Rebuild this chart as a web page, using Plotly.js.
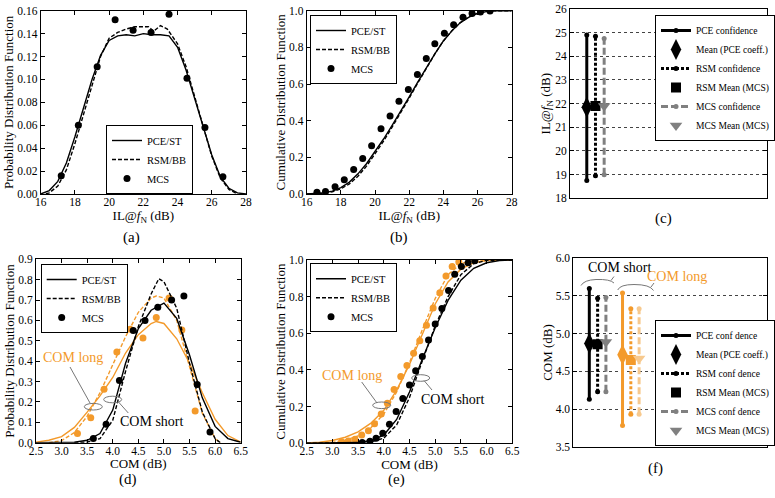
<!DOCTYPE html>
<html><head><meta charset="utf-8">
<script src="https://cdn.plot.ly/plotly-3.0.1.min.js"></script>
<style>html,body{margin:0;padding:0;background:#fff;}#chart{width:775px;height:498px;}</style>
</head><body><div id="chart"></div>
<script>
// ---------- Panel (a): PDF of IL@fN ----------
const aPceX = [16.0,16.5,17.0,17.5,18.0,18.5,19.0,19.5,20.0,20.5,21.0,21.5,22.0,22.5,23.0,23.5,24.0,24.5,25.0,25.5,26.0,26.5,27.0,27.5,28.0];
const aPceY = [0.000,0.003,0.011,0.027,0.050,0.076,0.100,0.121,0.134,0.138,0.139,0.138,0.140,0.139,0.139,0.138,0.128,0.108,0.084,0.059,0.034,0.015,0.005,0.001,0.000];
const aRsmX = [16.3,16.5,17.0,17.5,18.0,18.5,19.0,19.5,20.0,20.5,21.0,21.5,22.0,22.3,22.6,23.0,23.4,24.0,24.5,25.0,25.5,26.0,26.5,27.0,27.5];
const aRsmY = [0.000,0.001,0.007,0.021,0.044,0.070,0.096,0.120,0.136,0.141,0.144,0.146,0.146,0.146,0.142,0.147,0.144,0.131,0.111,0.085,0.058,0.033,0.014,0.004,0.000];
const aMcsX = [17.2,18.2,19.3,20.35,21.4,22.45,23.5,24.55,25.6,26.65];
const aMcsY = [0.016,0.060,0.111,0.152,0.143,0.141,0.157,0.101,0.058,0.015];

// ---------- Panel (b): CDF of IL@fN ----------
const bPceX = [16.0,17.0,17.5,18.0,18.5,19.0,19.5,20.0,20.5,21.0,21.5,22.0,22.5,23.0,23.5,24.0,24.5,25.0,25.5,26.0,26.5,27.0,28.0];
const bPceY = [0.000,0.006,0.016,0.035,0.065,0.110,0.165,0.230,0.300,0.375,0.450,0.530,0.610,0.690,0.765,0.835,0.890,0.935,0.965,0.985,0.995,0.999,1.000];
const bRsmX = [16.0,17.0,17.5,18.0,18.5,19.0,19.5,20.0,20.5,21.0,21.5,22.0,22.5,23.0,23.5,24.0,24.5,25.0,25.5,26.0,26.5,27.0,28.0];
const bRsmY = [0.000,0.004,0.012,0.028,0.055,0.097,0.152,0.217,0.288,0.365,0.442,0.523,0.605,0.687,0.764,0.835,0.891,0.936,0.967,0.986,0.996,1.000,1.000];
const bMcsX = [16.6,17.1,17.66,18.2,18.75,19.28,19.8,20.35,20.88,21.4,21.95,22.48,23.0,23.5,24.06,24.6,25.15,25.68,26.17,26.73];
const bMcsY = [0.009,0.014,0.040,0.078,0.134,0.194,0.263,0.356,0.426,0.506,0.570,0.652,0.739,0.820,0.877,0.924,0.964,0.985,0.993,0.998];

// ---------- Panel (c): confidence of IL@fN ----------
const cPos = [1, 2, 3];
const cLow = [18.75, 18.95, 19.0];
const cHigh = [24.9, 24.85, 24.75];
const cMean = [21.85, 21.9, 21.9];

// ---------- Panel (d): PDF of COM ----------
const dShortPceX = [2.5,3.0,3.25,3.5,3.75,4.0,4.25,4.5,4.75,5.0,5.25,5.5,5.75,6.0,6.25,6.5];
const dShortPceY = [0.000,0.000,0.002,0.012,0.045,0.160,0.390,0.560,0.650,0.685,0.610,0.430,0.220,0.080,0.020,0.002];
const dShortRsmX = [3.25,3.5,3.75,4.0,4.25,4.5,4.75,4.9,5.0,5.25,5.5,5.75,6.0,6.1];
const dShortRsmY = [0.000,0.003,0.020,0.110,0.350,0.570,0.730,0.805,0.790,0.660,0.390,0.150,0.020,0.000];
const dLongPceX = [2.5,2.75,3.0,3.25,3.5,3.75,4.0,4.25,4.5,4.75,4.85,5.0,5.25,5.5,5.75,6.0,6.25,6.5];
const dLongPceY = [0.003,0.012,0.030,0.075,0.150,0.230,0.320,0.440,0.530,0.585,0.595,0.585,0.510,0.390,0.245,0.115,0.035,0.003];
const dLongRsmX = [2.75,3.0,3.25,3.5,3.75,4.0,4.25,4.5,4.75,4.85,5.0,5.25,5.5,5.75,6.0,6.1];
const dLongRsmY = [0.000,0.010,0.050,0.130,0.245,0.380,0.520,0.640,0.710,0.720,0.710,0.600,0.370,0.145,0.020,0.000];
const dShortMcsX = [3.62,3.87,4.13,4.40,4.63,4.88,5.15,5.39,5.65,5.90];
const dShortMcsY = [0.021,0.090,0.305,0.550,0.600,0.665,0.700,0.720,0.285,0.053];
const dLongMcsX = [3.31,3.57,3.83,4.08,4.34,4.59,4.85,5.10,5.35,5.61];
const dLongMcsY = [0.045,0.122,0.262,0.445,0.557,0.514,0.615,0.710,0.553,0.155];

// ---------- Panel (e): CDF of COM ----------
const eShortPceX = [2.5,3.0,3.25,3.5,3.75,4.0,4.25,4.5,4.75,5.0,5.25,5.5,5.75,6.0,6.25,6.5];
const eShortPceY = [0.000,0.000,0.001,0.004,0.015,0.045,0.130,0.280,0.460,0.630,0.780,0.890,0.955,0.985,0.997,1.000];
const eShortRsmX = [2.5,3.25,3.5,3.75,4.0,4.25,4.5,4.75,5.0,5.25,5.5,5.75,6.0,6.5];
const eShortRsmY = [0.000,0.000,0.002,0.008,0.028,0.100,0.250,0.450,0.640,0.800,0.920,0.980,0.998,1.000];
const eLongPceX = [2.5,2.75,3.0,3.25,3.5,3.75,4.0,4.25,4.5,4.75,5.0,5.25,5.5,5.75,6.0,6.5];
const eLongPceY = [0.002,0.006,0.015,0.033,0.062,0.110,0.180,0.290,0.430,0.600,0.760,0.880,0.950,0.985,0.997,1.000];
const eLongRsmX = [2.75,3.0,3.25,3.5,3.75,4.0,4.25,4.5,4.75,5.0,5.25,5.5,5.75,6.0,6.5];
const eLongRsmY = [0.001,0.005,0.017,0.040,0.085,0.160,0.280,0.440,0.620,0.790,0.920,0.980,0.997,1.000,1.000];
const eShortMcsX = [3.58,3.73,3.85,3.98,4.11,4.24,4.37,4.50,4.62,4.75,4.87,5.00,5.13,5.26,5.38,5.51,5.64,5.77];
const eShortMcsY = [0.005,0.011,0.027,0.055,0.104,0.173,0.245,0.318,0.396,0.473,0.564,0.651,0.735,0.833,0.922,0.964,0.985,0.996];
const eLongMcsX = [3.18,3.31,3.44,3.57,3.70,3.82,3.95,4.07,4.20,4.33,4.45,4.58,4.70,4.83,4.96,5.09,5.21,5.33,5.46];
const eLongMcsY = [0.009,0.013,0.022,0.045,0.069,0.107,0.160,0.218,0.293,0.364,0.425,0.491,0.560,0.644,0.738,0.822,0.913,0.964,0.989];

// ---------- Panel (f): confidence of COM ----------
const fShortPos = [1, 2, 3];
const fShortLow = [4.13, 4.23, 4.23];
const fShortHigh = [5.60, 5.47, 5.48];
const fShortMean = [4.87, 4.86, 4.89];
const fLongPos = [5, 6, 7];
const fLongLow = [3.78, 3.93, 3.93];
const fLongHigh = [5.54, 5.33, 5.33];
const fLongMean = [4.72, 4.65, 4.67];

const legendNames = ['PCE/ST', 'RSM/BB', 'MCS'];
const confNamesC = ['PCE confidence', 'Mean (PCE coeff.)', 'RSM confidence', 'RSM Mean (MCS)', 'MCS confidence', 'MCS Mean (MCS)'];
const confNamesF = ['PCE conf dence', 'Mean (PCE coeff.)', 'RSM conf dence', 'RSM Mean (MCS)', 'MCS conf dence', 'MCS Mean (MCS)'];
const longNames = ['PCE conf dence (COM long)', 'Mean (PCE coeff.) (COM long)', 'RSM conf dence (COM long)', 'RSM Mean (MCS) (COM long)', 'MCS conf dence (COM long)', 'MCS Mean (MCS) (COM long)'];

// ---------- styles ----------
const W = 775, H = 498;
const fx = p => p / W, fy = p => 1 - p / H;
const FONT = 'Liberation Serif, DejaVu Serif, serif';
const BLK = '#000000', ORG = '#f39a2b', LORG = '#f7c98e', GRY = '#808080';
const DASH = '4px,2px';

function line(x, y, xa, ya, color, dash, leg, name, show) {
  return {x, y, xaxis: xa, yaxis: ya, type: 'scatter', mode: 'lines', name: name || 'COM long',
    line: {color, width: 1.4, dash: dash || 'solid'}, legend: leg, showlegend: !!show, hoverinfo: 'skip'};
}
function dots(x, y, xa, ya, color, leg, name, show) {
  return {x, y, xaxis: xa, yaxis: ya, type: 'scatter', mode: 'markers', name: name || 'COM long MCS',
    marker: {color, size: 7, symbol: 'circle'}, legend: leg, showlegend: !!show, hoverinfo: 'skip'};
}
function bar(xv, lo, hi, xa, ya, color, dash, leg, name, show) {
  return {x: [xv, xv], y: [lo, hi], xaxis: xa, yaxis: ya, type: 'scatter', mode: 'lines+markers', name,
    line: {color, width: 3, dash}, marker: {color, size: 5}, legend: leg, showlegend: !!show, hoverinfo: 'skip'};
}
function meanPt(xv, yv, xa, ya, color, symbol, size, leg, name, show) {
  return {x: [xv], y: [yv], xaxis: xa, yaxis: ya, type: 'scatter', mode: 'markers', name,
    marker: {color, size, symbol}, legend: leg, showlegend: !!show, hoverinfo: 'skip'};
}

const traces = [
  // (a)
  line(aPceX, aPceY, 'x', 'y', BLK, 'solid', 'legend', legendNames[0], true),
  line(aRsmX, aRsmY, 'x', 'y', BLK, DASH, 'legend', legendNames[1], true),
  dots(aMcsX, aMcsY, 'x', 'y', BLK, 'legend', legendNames[2], true),
  // (b)
  line(bPceX, bPceY, 'x2', 'y2', BLK, 'solid', 'legend2', legendNames[0], true),
  line(bRsmX, bRsmY, 'x2', 'y2', BLK, DASH, 'legend2', legendNames[1], true),
  dots(bMcsX, bMcsY, 'x2', 'y2', BLK, 'legend2', legendNames[2], true),
  // (c)
  bar(cPos[0], cLow[0], cHigh[0], 'x3', 'y3', BLK, 'solid', 'legend3', confNamesC[0], true),
  meanPt(cPos[0], cMean[0], 'x3', 'y3', BLK, 'diamond-tall', 15, 'legend3', confNamesC[1], true),
  bar(cPos[1], cLow[1], cHigh[1], 'x3', 'y3', BLK, '3px,2px', 'legend3', confNamesC[2], true),
  meanPt(cPos[1], cMean[1], 'x3', 'y3', BLK, 'square', 10, 'legend3', confNamesC[3], true),
  bar(cPos[2], cLow[2], cHigh[2], 'x3', 'y3', GRY, '7px,3px', 'legend3', confNamesC[4], true),
  meanPt(cPos[2], cMean[2], 'x3', 'y3', GRY, 'triangle-down', 11, 'legend3', confNamesC[5], true),
  // (d)
  line(dLongPceX, dLongPceY, 'x4', 'y4', ORG, 'solid', 'legend4'),
  line(dLongRsmX, dLongRsmY, 'x4', 'y4', ORG, DASH, 'legend4'),
  dots(dLongMcsX, dLongMcsY, 'x4', 'y4', ORG, 'legend4'),
  line(dShortPceX, dShortPceY, 'x4', 'y4', BLK, 'solid', 'legend4', legendNames[0], true),
  line(dShortRsmX, dShortRsmY, 'x4', 'y4', BLK, DASH, 'legend4', legendNames[1], true),
  dots(dShortMcsX, dShortMcsY, 'x4', 'y4', BLK, 'legend4', legendNames[2], true),
  // (e)
  line(eLongPceX, eLongPceY, 'x5', 'y5', ORG, 'solid', 'legend5'),
  line(eLongRsmX, eLongRsmY, 'x5', 'y5', ORG, DASH, 'legend5'),
  dots(eLongMcsX, eLongMcsY, 'x5', 'y5', ORG, 'legend5'),
  line(eShortPceX, eShortPceY, 'x5', 'y5', BLK, 'solid', 'legend5', legendNames[0], true),
  line(eShortRsmX, eShortRsmY, 'x5', 'y5', BLK, DASH, 'legend5', legendNames[1], true),
  dots(eShortMcsX, eShortMcsY, 'x5', 'y5', BLK, 'legend5', legendNames[2], true),
  // (f)
  bar(fShortPos[0], fShortLow[0], fShortHigh[0], 'x6', 'y6', BLK, 'solid', 'legend6', confNamesF[0], true),
  meanPt(fShortPos[0], fShortMean[0], 'x6', 'y6', BLK, 'diamond-tall', 15, 'legend6', confNamesF[1], true),
  bar(fShortPos[1], fShortLow[1], fShortHigh[1], 'x6', 'y6', BLK, '3px,2px', 'legend6', confNamesF[2], true),
  meanPt(fShortPos[1], fShortMean[1], 'x6', 'y6', BLK, 'square', 10, 'legend6', confNamesF[3], true),
  bar(fShortPos[2], fShortLow[2], fShortHigh[2], 'x6', 'y6', GRY, '7px,3px', 'legend6', confNamesF[4], true),
  meanPt(fShortPos[2], fShortMean[2], 'x6', 'y6', GRY, 'triangle-down', 11, 'legend6', confNamesF[5], true),
  bar(fLongPos[0], fLongLow[0], fLongHigh[0], 'x6', 'y6', ORG, 'solid', 'legend6', longNames[0]),
  meanPt(fLongPos[0], fLongMean[0], 'x6', 'y6', ORG, 'diamond-tall', 15, 'legend6', longNames[1]),
  bar(fLongPos[1], fLongLow[1], fLongHigh[1], 'x6', 'y6', ORG, '3px,2px', 'legend6', longNames[2]),
  meanPt(fLongPos[1], fLongMean[1], 'x6', 'y6', ORG, 'square', 10, 'legend6', longNames[3]),
  bar(fLongPos[2], fLongLow[2], fLongHigh[2], 'x6', 'y6', LORG, '7px,3px', 'legend6', longNames[4]),
  meanPt(fLongPos[2], fLongMean[2], 'x6', 'y6', LORG, 'triangle-down', 11, 'legend6', longNames[5])
];

const tickFont = {family: FONT, size: 11.5, color: '#000'};
const titleFont = {family: FONT, size: 13, color: '#000'};
function ax(domain, anchor, range, dtick, fmt, title, extra) {
  const o = {
    domain, anchor, range, dtick, tick0: range[0], tickformat: fmt, autorange: false,
    showline: true, mirror: 'ticks', linecolor: '#000', linewidth: 1,
    ticks: 'inside', ticklen: 4, tickcolor: '#000', tickwidth: 1,
    showgrid: false, zeroline: false, tickfont: tickFont
  };
  if (title) o.title = {text: title, font: titleFont, standoff: 0};
  return Object.assign(o, extra || {});
}
const ILT = 'IL@<i>f</i><sub>N</sub> (dB)';
const gridY = {showgrid: true, gridcolor: '#444', griddash: 'dot', gridwidth: 1};
const noX = {showticklabels: false, ticks: '', mirror: true};
const xLab = {ticklabelstandoff: -3};

function legendAt(x, y, size, anchor) {
  return {x: fx(x), y: fy(y), xanchor: 'left', yanchor: anchor || 'top', bgcolor: '#fff',
    bordercolor: '#000', borderwidth: 1, font: {family: FONT, size: size || 10.5, color: '#000'},
    tracegroupgap: 0, itemwidth: 30};
}

function cap(text, x, y) {
  return {text, x: fx(x), y: fy(y), xref: 'paper', yref: 'paper', showarrow: false,
    xanchor: 'center', yanchor: 'middle', font: {family: FONT, size: 15, color: '#000'}};
}
function note(text, x, y, color, size) {
  return {text, x: fx(x), y: fy(y), xref: 'paper', yref: 'paper', showarrow: false,
    xanchor: 'center', yanchor: 'middle', font: {family: FONT, size: size || 14, color}};
}
function seg(x0, y0, x1, y1) {
  return {type: 'line', xref: 'paper', yref: 'paper', x0: fx(x0), y0: fy(y0), x1: fx(x1), y1: fy(y1),
    line: {color: '#777', width: 1}};
}
function ell(cx, cy, rx, ry) {
  return {type: 'circle', xref: 'paper', yref: 'paper', x0: fx(cx - rx), x1: fx(cx + rx),
    y0: fy(cy + ry), y1: fy(cy - ry), line: {color: '#777', width: 1}};
}
function pathPx(pts) {
  return pts.map(p => p[0] + ' ' + p.slice(1).map((v, i) => i % 2 === 0 ? fx(v) : fy(v)).join(' ')).join(' ');
}
function brace(pts) {
  return {type: 'path', xref: 'paper', yref: 'paper', path: pathPx(pts), line: {color: '#777', width: 1}};
}

const layout = {
  width: W, height: H, margin: {l: 0, r: 0, t: 0, b: 0},
  paper_bgcolor: '#fff', plot_bgcolor: '#fff', font: {family: FONT, color: '#000'},
  xaxis: ax([fx(40.7), fx(246)], 'y', [16, 28], 2, 'd', ILT, xLab),
  yaxis: ax([fy(194), fy(10.7)], 'x', [0, 0.16], 0.02, '.2f', 'Probability Distribution Function'),
  xaxis2: ax([fx(306.7), fx(511.7)], 'y2', [16, 28], 2, 'd', ILT, xLab),
  yaxis2: ax([fy(194), fy(10.7)], 'x2', [0, 1], 0.2, '.1f', 'Cumulative Distribution Function'),
  xaxis3: ax([fx(570), fx(766.7)], 'y3', [-0.93, 21.7], 5, 'd', null, noX),
  yaxis3: ax([fy(198.3), fy(9)], 'x3', [18, 26], 1, 'd', ILT, gridY),
  xaxis4: ax([fx(36), fx(240.7)], 'y4', [2.5, 6.5], 0.5, '.1f', 'COM (dB)', xLab),
  yaxis4: ax([fy(442.7), fy(259.3)], 'x4', [0, 0.9], 0.1, '.1f', 'Probability Distribution Function'),
  xaxis5: ax([fx(306.7), fx(512.3)], 'y5', [2.5, 6.5], 0.5, '.1f', 'COM (dB)', xLab),
  yaxis5: ax([fy(443.3), fy(260)], 'x5', [0, 1], 0.2, '.1f', 'Cumulative Distribution Function'),
  xaxis6: ax([fx(573.3), fx(766.7)], 'y6', [-0.93, 22.37], 5, 'd', null, noX),
  yaxis6: ax([fy(446.7), fy(258.3)], 'x6', [3.5, 6.0], 0.5, '.1f', 'COM (dB)', gridY),
  legend: legendAt(106, 194, 10.5, 'bottom'),
  legend2: legendAt(310, 15),
  legend3: legendAt(655, 15, 9.5),
  legend4: legendAt(40.7, 264),
  legend5: legendAt(310, 263.3),
  legend6: legendAt(655, 446, 9.5, 'bottom'),
  annotations: [
    cap('(a)', 131.7, 238), cap('(b)', 399, 238), cap('(c)', 663.3, 218),
    cap('(d)', 128.3, 479), cap('(e)', 396.7, 479), cap('(f)', 655, 468),
    note('COM long', 73.3, 357, ORG), note('COM short', 151.7, 421, BLK),
    note('COM long', 351.7, 375, ORG), note('COM short', 453.3, 399, BLK),
    note('COM short', 620, 267.5, BLK), note('COM long', 676.7, 276.7, ORG)
  ],
  shapes: [
    seg(70, 367, 90, 403), ell(93.3, 406.7, 9, 3.3), ell(112.7, 399.5, 9, 3.3), seg(118.5, 402, 128.3, 413),
    seg(361.7, 382, 377, 403), ell(381.7, 405.3, 9, 3.3), ell(420.7, 378, 9, 3.3), seg(424, 380.5, 432, 390),
    brace([['M', 581, 285.5], ['Q', 584, 280, 596, 279.5], ['Q', 610, 279, 614, 283], ['M', 611, 280.5], ['L', 614, 276.5]]),
    brace([['M', 617.7, 290], ['Q', 620, 284.5, 634, 284.5], ['Q', 650, 284.5, 653.5, 290.5], ['M', 651, 287], ['L', 654, 283]])
  ]
};

Plotly.newPlot('chart', traces, layout, {staticPlot: true, displayModeBar: false});
</script></body></html>
